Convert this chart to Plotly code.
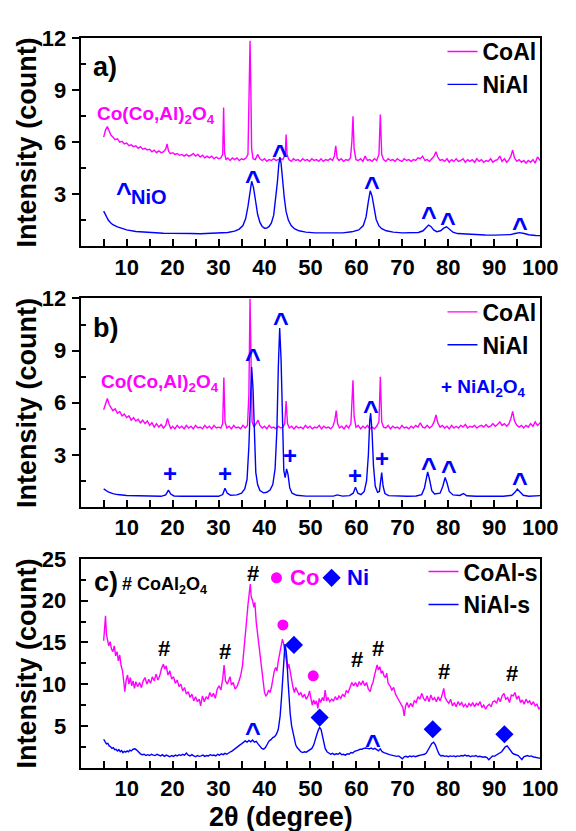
import plotly.graph_objects as go

# ---------------- data ----------------
# Panel a
xa_coal = [5.0,5.4,5.8,6.2,6.6,7.0,7.5,8.0,8.5,9.0,9.5,10.0,10.5,11.0,11.5,12.0,12.5,13.0,13.5,14.0,14.5,15.0,15.5,16.0,16.5,17.0,17.5,18.0,18.5,18.8,19.1,19.5,20.0,20.5,21.0,21.5,22.0,22.5,23.0,23.5,24.0,24.5,25.0,25.5,26.0,26.5,27.0,27.5,28.0,28.5,29.0,29.5,30.0,30.5,30.9,31.1,31.3,31.6,32.0,32.5,33.0,33.5,34.0,34.5,35.0,35.5,36.0,36.4,36.7,36.85,37.0,37.2,37.5,38.0,38.5,39.0,39.5,40.0,40.5,41.0,41.5,42.0,42.5,43.0,43.5,44.0,44.5,44.7,44.9,45.3,45.8,46.3,46.8,47.3,47.8,48.3,48.8,49.3,49.8,50.3,50.8,51.3,51.8,52.3,52.8,53.3,53.8,54.3,54.8,55.2,55.5,55.8,56.2,56.7,57.2,57.7,58.2,58.7,59.0,59.25,59.5,59.9,60.4,60.9,61.4,61.9,62.4,62.9,63.4,63.9,64.4,64.9,65.2,65.5,65.9,66.4,66.9,67.4,67.9,68.4,68.9,69.4,69.9,70.4,70.9,71.4,71.9,72.4,72.9,73.4,73.9,74.4,74.9,75.4,75.9,76.4,76.9,77.3,77.7,78.2,78.7,79.2,79.7,80.2,80.7,81.2,81.7,82.2,82.7,83.2,83.7,84.2,84.7,85.2,85.7,86.2,86.7,87.2,87.7,88.2,88.7,89.2,89.7,90.2,90.7,91.2,91.7,92.2,92.7,93.2,93.6,94.0,94.4,94.9,95.4,95.9,96.4,96.9,97.4,97.9,98.4,98.9,99.4,100.0]
ya_coal = [6.3,6.7,6.9,6.6,6.4,6.3,6.15,6.2,6.0,6.05,5.9,5.95,5.8,5.85,5.75,5.8,5.65,5.75,5.6,5.65,5.55,5.6,5.45,5.55,5.4,5.5,5.4,5.45,5.6,5.9,5.5,5.35,5.4,5.3,5.35,5.25,5.3,5.2,5.3,5.2,5.25,5.35,5.2,5.3,5.15,5.25,5.1,5.2,5.1,5.2,5.05,5.15,5.05,5.1,5.3,8.0,5.4,5.0,5.1,4.95,5.1,5.0,5.1,4.95,5.05,5.0,5.1,5.3,9.0,11.85,9.5,5.6,5.05,5.0,5.3,5.05,4.95,5.05,4.9,5.0,4.95,5.05,4.95,5.0,5.05,5.0,5.3,6.45,5.3,5.0,4.9,5.05,4.95,5.0,4.9,5.05,4.95,5.0,4.9,5.05,4.95,5.0,4.9,5.05,4.9,5.0,4.95,5.05,4.95,5.2,5.8,5.1,4.95,5.05,4.9,5.0,4.95,5.1,6.0,7.5,5.6,5.0,4.95,5.05,4.9,5.2,4.95,5.0,4.9,5.05,4.95,5.3,7.6,5.3,5.0,4.9,5.05,4.95,5.0,4.9,5.05,4.95,4.9,5.05,4.95,5.0,4.9,5.0,4.95,5.1,5.05,5.2,4.95,5.0,4.9,5.05,5.2,5.45,5.15,4.95,5.0,4.9,5.05,4.85,5.0,4.9,5.05,4.9,4.95,5.05,4.85,5.0,4.9,5.0,4.85,5.05,4.9,5.0,4.85,4.95,4.9,5.05,4.85,4.95,5.0,5.2,4.9,5.05,4.85,5.0,5.2,5.55,5.1,4.9,5.0,4.85,4.95,4.8,4.95,4.85,5.0,4.8,5.15,4.95]

xa_nial = [5.0,5.5,6.0,6.5,7.0,8.0,9.0,10.0,12.0,14.0,16.0,18.0,20.0,22.0,24.0,26.0,28.0,30.0,32.0,33.5,34.5,35.3,35.9,36.4,36.8,37.2,37.6,38.0,38.5,39.0,39.5,40.0,40.5,41.0,41.5,42.0,42.4,42.8,43.1,43.35,43.6,43.9,44.3,44.7,45.2,45.8,46.5,47.5,49.0,51.0,53.0,55.0,57.0,59.0,60.5,61.5,62.1,62.6,63.0,63.4,63.8,64.3,64.9,65.5,66.5,68.0,70.0,72.0,73.5,74.5,75.2,75.7,76.2,76.8,77.5,78.3,79.0,79.6,80.2,81.0,82.0,84.0,86.0,88.0,90.0,92.0,93.5,94.5,95.5,96.5,97.5,99.0,100.0]
ya_nial = [2.03,1.75,1.52,1.36,1.25,1.12,1.02,0.95,0.86,0.82,0.79,0.76,0.75,0.76,0.74,0.73,0.74,0.76,0.8,0.88,1.0,1.2,1.6,2.3,3.1,3.75,3.4,2.7,1.85,1.38,1.15,1.05,1.06,1.15,1.35,1.8,2.6,3.7,4.7,5.15,4.8,3.9,2.8,2.0,1.5,1.2,1.02,0.9,0.82,0.78,0.77,0.77,0.78,0.84,0.95,1.2,1.7,2.6,3.2,2.9,2.2,1.55,1.18,1.02,0.9,0.82,0.78,0.77,0.8,0.9,1.1,1.23,1.15,0.95,0.85,0.9,1.05,1.13,1.0,0.82,0.74,0.7,0.68,0.66,0.65,0.65,0.68,0.74,0.79,0.74,0.67,0.63,0.62]

# Panel b
xb_coal = [5.0,5.4,5.8,6.2,6.6,7.0,7.5,8.0,8.5,9.0,9.5,10.0,10.5,11.0,11.5,12.0,12.5,13.0,13.5,14.0,14.5,15.0,15.5,16.0,16.5,17.0,17.5,18.0,18.5,18.9,19.2,19.6,20.0,20.5,21.0,21.5,22.0,22.5,23.0,23.5,24.0,24.5,25.0,25.5,26.0,26.5,27.0,27.5,28.0,28.5,29.0,29.5,30.0,30.5,30.9,31.15,31.4,31.8,32.3,32.8,33.3,33.8,34.3,34.8,35.3,35.8,36.3,36.6,36.85,37.05,37.3,37.7,38.2,38.6,39.0,39.5,40.0,40.5,41.0,41.5,42.0,42.5,43.0,43.5,44.0,44.4,44.7,45.0,45.4,45.9,46.4,46.9,47.4,47.9,48.4,48.9,49.4,49.9,50.4,50.9,51.4,51.9,52.4,52.9,53.4,53.9,54.4,54.9,55.3,55.6,55.9,56.3,56.8,57.3,57.8,58.3,58.8,59.05,59.25,59.5,59.9,60.4,60.9,61.4,61.9,62.4,62.9,63.4,63.9,64.4,64.9,65.2,65.5,65.9,66.4,66.9,67.4,67.9,68.4,68.9,69.4,69.9,70.4,70.9,71.4,71.9,72.4,72.9,73.4,73.9,74.4,74.9,75.4,75.9,76.4,76.9,77.3,77.7,78.2,78.7,79.2,79.7,80.2,80.7,81.2,81.7,82.2,82.7,83.2,83.7,84.2,84.7,85.2,85.7,86.2,86.7,87.2,87.7,88.2,88.7,89.2,89.7,90.2,90.7,91.2,91.7,92.2,92.7,93.2,93.6,94.0,94.4,94.9,95.4,95.9,96.4,96.9,97.4,97.9,98.4,98.9,99.4,100.0]
yb_coal = [5.6,6.0,6.25,5.9,5.75,5.55,5.65,5.4,5.5,5.25,5.35,5.15,5.25,5.0,5.15,4.95,5.05,4.85,5.0,4.8,4.95,4.7,4.85,4.6,4.8,4.6,4.75,4.55,4.7,5.1,4.8,4.5,4.65,4.5,4.7,4.55,4.65,4.5,4.7,4.55,4.65,4.5,4.7,4.55,4.6,4.5,4.7,4.55,4.65,4.5,4.7,4.55,4.6,4.55,4.8,7.45,4.9,4.55,4.65,4.5,4.7,4.55,4.6,4.5,4.7,4.55,4.7,6.5,12.0,8.0,4.9,4.6,4.8,5.0,4.7,4.55,4.65,4.5,4.7,4.55,4.6,4.5,4.65,4.55,4.6,4.8,6.1,4.8,4.55,4.65,4.5,4.65,4.55,4.6,4.5,4.7,4.55,4.65,4.5,4.6,4.55,4.7,4.5,4.65,4.55,4.6,4.5,4.65,5.0,5.55,4.8,4.55,4.65,4.5,4.7,4.55,4.8,6.0,7.3,5.2,4.6,4.7,4.5,4.65,4.55,4.7,4.5,4.6,4.5,4.65,4.9,7.5,4.9,4.6,4.55,4.7,4.5,4.65,4.55,4.6,4.5,4.7,4.55,4.6,4.5,4.65,4.55,4.7,4.6,4.85,4.6,4.55,4.7,4.55,4.65,4.9,5.3,4.85,4.6,4.7,4.55,4.65,4.5,4.7,4.55,4.65,4.55,4.7,4.6,4.75,4.55,4.65,4.6,4.7,4.55,4.65,4.7,4.6,4.75,4.6,4.65,4.8,4.65,4.75,4.9,4.7,4.8,4.65,4.8,5.1,5.5,4.95,4.7,4.6,4.7,4.55,4.7,4.6,4.8,4.65,4.9,4.7,4.85]

xb_nial = [5.0,5.5,6.0,7.0,8.0,10.0,12.0,14.0,16.0,17.5,18.5,19.1,19.6,20.3,22.0,24.0,26.0,28.0,30.0,30.9,31.4,31.9,32.6,34.0,35.0,35.7,36.2,36.6,36.9,37.2,37.5,37.8,38.1,38.5,39.0,39.8,40.5,41.2,41.8,42.3,42.7,43.0,43.3,43.6,43.9,44.2,44.5,44.8,45.1,45.5,46.0,47.0,49.0,51.0,53.0,55.0,55.8,56.3,57.0,58.5,59.3,59.8,60.3,61.0,61.7,62.2,62.6,62.9,63.1,63.4,63.7,64.1,64.6,65.0,65.3,65.5,65.8,66.2,67.0,69.0,71.0,73.0,74.2,74.8,75.3,75.5,75.9,76.4,77.0,78.2,78.8,79.3,79.7,80.2,81.0,82.5,83.3,84.0,86.0,88.0,90.0,92.0,93.8,94.5,95.0,95.6,96.3,97.5,99.0,100.0]
yb_nial = [1.05,0.95,0.87,0.77,0.72,0.67,0.65,0.63,0.62,0.62,0.7,0.98,0.75,0.64,0.62,0.61,0.6,0.6,0.62,0.72,1.08,0.8,0.68,0.7,0.8,1.05,1.6,3.5,6.5,8.05,6.8,4.0,2.0,1.3,0.95,0.82,0.85,0.98,1.3,2.2,4.5,8.0,10.3,8.5,4.5,2.1,1.7,2.2,1.9,1.1,0.8,0.68,0.63,0.62,0.62,0.63,0.7,0.67,0.63,0.66,0.8,1.14,0.8,0.72,0.9,1.5,3.0,5.0,5.4,4.3,2.4,1.2,0.85,0.9,1.5,1.99,1.2,0.78,0.66,0.62,0.62,0.64,0.72,1.1,1.85,2.03,1.6,0.95,0.75,0.8,1.2,1.7,1.4,0.9,0.7,0.67,0.78,0.65,0.62,0.61,0.61,0.62,0.68,0.85,1.04,0.85,0.68,0.62,0.63,0.66]

# Panel c
xc_coal = [5.0,5.2,5.4,5.6,5.8,6.1,6.4,6.7,7.0,7.3,7.6,7.9,8.2,8.5,8.8,9.1,9.4,9.6,9.9,10.2,10.5,10.8,11.1,11.4,11.7,12.0,12.4,12.8,13.2,13.6,14.0,14.4,14.8,15.2,15.6,16.0,16.4,16.8,17.2,17.6,18.0,18.3,18.6,19.0,19.4,19.8,20.2,20.6,21.0,21.4,21.8,22.2,22.6,23.0,23.4,23.8,24.2,24.6,25.0,25.4,25.8,26.1,26.5,26.9,27.3,27.7,28.1,28.5,28.9,29.3,29.7,30.1,30.5,30.9,31.2,31.5,31.9,32.2,32.5,32.8,33.2,33.6,34.0,34.4,34.8,35.2,35.5,35.8,36.1,36.4,36.7,36.9,37.1,37.4,37.7,37.9,38.2,38.5,38.8,39.1,39.4,39.7,40.0,40.3,40.6,40.9,41.2,41.5,41.8,42.1,42.4,42.7,43.0,43.3,43.6,43.9,44.1,44.4,44.7,45.0,45.3,45.6,45.9,46.2,46.5,46.8,47.1,47.5,47.9,48.3,48.7,49.1,49.5,49.8,50.1,50.4,50.7,51.0,51.3,51.6,51.9,52.2,52.6,52.9,53.2,53.5,53.8,54.2,54.6,55.0,55.4,55.8,56.2,56.6,57.0,57.4,57.8,58.2,58.6,59.0,59.4,59.8,60.2,60.6,61.0,61.4,61.8,62.2,62.6,63.0,63.3,63.6,63.9,64.2,64.5,64.8,65.1,65.4,65.7,66.0,66.3,66.6,66.9,67.3,67.7,68.1,68.5,68.9,69.3,69.7,70.1,70.4,70.7,71.0,71.4,71.8,72.2,72.6,73.0,73.4,73.8,74.2,74.6,75.0,75.4,75.8,76.2,76.6,77.0,77.4,77.8,78.2,78.6,79.0,79.3,79.7,80.1,80.5,80.9,81.3,81.7,82.1,82.5,82.9,83.3,83.7,84.1,84.5,84.9,85.3,85.7,86.1,86.5,86.9,87.3,87.7,88.1,88.5,88.9,89.3,89.7,90.1,90.5,90.9,91.3,91.7,92.1,92.5,92.9,93.3,93.7,94.1,94.5,94.9,95.3,95.7,96.1,96.5,96.9,97.3,97.7,98.1,98.5,98.9,99.3,99.7,100.0]
yc_coal = [15.2,16.5,18.2,16.0,15.4,14.6,15.1,14.2,13.9,14.6,13.4,13.9,12.8,13.5,12.2,11.6,10.2,9.1,10.5,11.1,10.0,10.8,9.8,10.4,9.5,10.3,9.7,10.2,9.6,10.4,10.8,10.0,10.6,10.1,10.9,10.4,11.2,10.5,11.0,11.9,12.4,11.8,12.2,11.1,11.6,10.6,10.9,10.1,10.5,9.7,10.0,9.2,9.6,8.8,9.1,8.4,8.8,8.0,8.5,7.9,8.2,7.4,8.6,7.9,8.5,8.2,9.0,8.5,8.9,8.3,9.4,9.8,9.3,10.6,12.3,10.4,10.0,10.6,10.9,9.9,10.2,9.4,9.7,10.3,11.0,12.2,13.8,15.8,17.6,19.5,20.8,22.0,20.5,20.0,19.2,19.8,17.4,16.0,14.5,13.2,12.0,10.3,9.0,8.6,8.8,9.3,9.0,9.6,10.8,11.5,12.0,11.6,12.8,13.6,14.4,15.4,15.0,14.2,13.0,11.8,12.4,11.5,10.4,9.6,9.0,9.6,9.2,8.7,9.0,8.4,8.8,8.2,8.6,9.2,8.3,7.5,8.1,7.6,8.0,7.1,8.3,7.8,8.4,8.0,9.3,8.0,8.4,7.9,8.2,8.0,8.5,8.1,8.6,8.3,8.8,8.5,9.2,9.0,9.6,10.2,9.8,10.2,9.7,10.3,9.9,10.4,9.8,10.2,9.4,9.1,9.8,10.2,11.0,11.8,12.3,11.7,12.1,11.3,11.6,11.0,10.8,11.3,10.1,9.8,9.3,9.6,8.8,8.4,8.0,7.6,7.2,6.2,7.4,7.8,7.2,7.7,7.3,8.0,7.8,8.5,8.2,8.9,8.3,8.0,8.6,7.9,8.7,8.1,8.4,7.9,8.5,8.0,8.6,9.5,8.4,8.0,7.7,8.2,7.4,7.8,7.3,7.9,7.5,7.8,7.3,7.6,7.2,7.7,7.4,7.8,7.3,7.7,7.5,7.9,7.2,7.5,7.0,7.4,7.6,7.3,7.9,8.0,7.7,8.4,7.9,8.6,8.9,8.2,8.4,7.8,8.7,8.6,9.0,8.2,8.6,7.8,8.1,7.6,8.2,7.8,8.0,7.5,7.9,7.4,7.6,7.0,7.2]

xc_nial = [5.0,5.3,5.6,5.9,6.2,6.5,6.8,7.1,7.4,7.7,8.0,8.3,8.6,8.9,9.2,9.5,9.8,10.1,10.4,10.7,11.0,11.4,11.8,12.2,12.6,13.0,13.4,13.8,14.2,14.6,15.0,15.4,15.8,16.2,16.6,17.0,17.4,17.8,18.2,18.6,19.0,19.4,19.8,20.2,20.6,21.0,21.4,21.8,22.2,22.6,23.0,23.4,23.8,24.2,24.6,25.0,25.4,25.8,26.2,26.6,27.0,27.4,27.8,28.2,28.6,29.0,29.4,29.8,30.2,30.6,31.0,31.4,31.8,32.2,32.6,33.0,33.4,33.8,34.2,34.6,35.0,35.4,35.8,36.2,36.6,37.0,37.4,37.8,38.2,38.6,39.0,39.4,39.8,40.2,40.6,41.0,41.4,41.8,42.2,42.6,43.0,43.4,43.7,44.0,44.2,44.45,44.7,44.9,45.1,45.3,45.6,45.9,46.2,46.5,46.8,47.1,47.5,47.9,48.3,48.7,49.1,49.5,49.9,50.3,50.7,51.1,51.4,51.7,52.0,52.3,52.6,52.9,53.2,53.6,54.0,54.4,54.8,55.2,55.6,56.0,56.4,56.8,57.2,57.6,58.0,58.4,58.8,59.2,59.6,60.0,60.4,60.8,61.2,61.6,62.0,62.4,62.8,63.2,63.6,64.0,64.4,64.8,65.2,65.6,66.0,66.4,66.8,67.2,67.6,68.0,68.4,68.8,69.2,69.6,70.0,70.4,70.8,71.2,71.6,72.0,72.4,72.8,73.2,73.6,74.0,74.4,74.8,75.2,75.6,76.0,76.4,76.8,77.2,77.6,78.0,78.4,78.8,79.2,79.6,80.0,80.4,80.8,81.2,81.6,82.0,82.4,82.8,83.2,83.6,84.0,84.4,84.8,85.2,85.6,86.0,86.4,86.8,87.2,87.6,88.0,88.4,88.8,89.2,89.6,90.0,90.4,90.8,91.2,91.6,92.0,92.4,92.8,93.2,93.6,94.0,94.4,94.8,95.2,95.6,96.0,96.4,96.8,97.2,97.6,98.0,98.4,98.8,99.2,99.6,100.0]
yc_nial = [3.4,3.1,2.85,2.9,2.6,2.5,2.3,2.4,2.15,2.2,2.0,2.15,1.9,2.05,1.8,1.95,1.85,2.0,1.9,2.1,2.0,2.2,2.25,2.1,1.8,1.65,1.55,1.6,1.45,1.55,1.45,1.6,1.5,1.45,1.6,1.5,1.4,1.55,1.35,1.5,1.4,1.3,1.45,1.35,1.5,1.4,1.55,1.45,1.6,1.5,1.75,1.5,1.4,1.55,1.4,1.3,1.45,1.35,1.4,1.5,1.35,1.45,1.4,1.55,1.45,1.5,1.4,1.6,1.5,1.65,1.55,1.7,1.6,1.8,1.9,2.0,2.2,2.35,2.5,2.7,2.85,3.0,3.2,3.05,3.25,3.1,3.3,3.05,3.15,2.85,2.6,2.3,2.2,2.4,2.8,3.2,3.35,3.6,3.7,4.0,4.6,6.2,8.4,11.5,13.5,14.8,14.0,12.8,10.5,8.7,6.4,5.0,4.1,3.3,2.7,2.4,2.1,1.9,1.8,1.9,1.85,2.0,2.2,2.3,2.7,3.3,4.0,4.5,4.8,4.6,3.8,2.9,2.3,1.9,1.7,1.6,1.7,1.55,1.65,1.6,1.75,1.55,1.6,1.5,1.65,1.6,1.8,1.75,1.95,2.0,2.1,2.2,2.2,2.3,2.35,2.3,2.25,2.35,2.2,2.3,2.1,2.0,2.25,1.9,1.8,1.7,1.6,1.55,1.5,1.45,1.4,1.35,1.4,1.2,1.05,1.3,1.35,1.25,1.4,1.3,1.4,1.3,1.4,1.45,1.5,1.55,1.6,1.75,2.1,2.6,2.9,3.05,2.7,2.1,1.6,1.4,1.45,1.35,1.4,1.3,1.4,1.35,1.4,1.3,1.4,1.35,1.45,1.4,1.5,1.4,1.45,1.3,1.4,1.35,1.45,1.3,1.35,1.3,1.25,1.3,1.2,0.95,1.25,1.4,1.35,1.5,1.55,1.7,1.9,2.2,2.5,2.6,2.3,2.0,1.7,1.6,1.5,1.45,1.2,0.95,1.3,1.4,1.45,1.35,1.4,1.3,1.25,1.2,1.15,1.1]

# Phase markers
nio_a_x = [37.5, 43.4, 63.3, 75.8, 80.0, 95.5]
nio_a_y = [4.15, 5.65, 3.85, 2.1, 1.75, 1.45]
nio_b_x = [37.6, 43.5, 63.2, 75.9, 80.1, 95.5]
nio_b_y = [8.9, 11.0, 5.95, 2.65, 2.45, 1.8]
spinel_b_x = [19.5, 31.5, 45.6, 59.7, 65.6]
spinel_b_y = [1.93, 1.93, 2.94, 1.84, 2.78]
coal2o4_c_x = [18.2, 31.3, 37.5, 60.2, 64.8, 79.0, 93.8]
coal2o4_c_y = [14.3, 13.9, 23.3, 12.9, 14.3, 11.5, 11.3]
nio_c_x = [37.5, 63.6]
nio_c_y = [5.0, 3.6]
co_c_x = [44.0, 50.6]
co_c_y = [17.1, 11.0]
ni_c_x = [46.4, 52.0, 76.6, 92.2]
ni_c_y = [14.7, 6.0, 4.6, 4.0]

x_ticks = [10, 20, 30, 40, 50, 60, 70, 80, 90, 100]
x_minor = [5, 15, 25, 35, 45, 55, 65, 75, 85, 95]
ya_ticks = [3, 6, 9, 12]
ya_minor = [1.5, 4.5, 7.5, 10.5]
yc_ticks = [5, 10, 15, 20, 25]
yc_minor = [2.5, 7.5, 12.5, 17.5, 22.5]

# ---------------- styling ----------------
FONT = "Liberation Sans Narrow, Liberation Sans, Arial, sans-serif"
WIDE = "Liberation Sans, Arial, sans-serif"
MAG = "rgb(255,0,255)"
BLU = "rgb(0,0,255)"

def bold(s):
    return "<b>" + s + "</b>"

fig = go.Figure()

def line(x, y, color, name, xa, ya, leg):
    fig.add_trace(go.Scatter(x=x, y=y, mode="lines", name=bold(name),
                             line=dict(color=color, width=1.4),
                             xaxis=xa, yaxis=ya, legend=leg))

line(xa_coal, ya_coal, MAG, "CoAl", "x", "y", "legend")
line(xa_nial, ya_nial, BLU, "NiAl", "x", "y", "legend")
line(xb_coal, yb_coal, MAG, "CoAl", "x2", "y2", "legend2")
line(xb_nial, yb_nial, BLU, "NiAl", "x2", "y2", "legend2")
line(xc_coal, yc_coal, MAG, "CoAl-s", "x3", "y3", "legend3")
line(xc_nial, yc_nial, BLU, "NiAl-s", "x3", "y3", "legend3")

# Co / Ni markers in panel c (plus the key symbols)
fig.add_trace(go.Scatter(x=co_c_x + [42.6], y=co_c_y + [22.75], mode="markers",
                         marker=dict(symbol="circle", size=11, color=MAG),
                         xaxis="x3", yaxis="y3", showlegend=False))
fig.add_trace(go.Scatter(x=ni_c_x + [54.6], y=ni_c_y + [22.75], mode="markers",
                         marker=dict(symbol="diamond", size=14, color=BLU),
                         xaxis="x3", yaxis="y3", showlegend=False))

ann = []
def txt(x, y, s, color, size, xr, yr, yshift=0, family=FONT):
    ann.append(dict(x=x, y=y, text=bold(s), xref=xr, yref=yr, showarrow=False,
                    font=dict(family=family, size=size, color=color),
                    xanchor="center", yanchor="middle", yshift=yshift))

CARET = 27
CSH = -7
# panel a
txt(5.3, 10.35, "a)", "black", 27, "x", "y")
txt(16.4, 7.55, "Co(Co,Al)<sub>2</sub>O<sub>4</sub>", MAG, 19, "x", "y")
txt(9.4, 3.5, "^", BLU, CARET, "x", "y", yshift=CSH, family=WIDE)
txt(14.9, 2.85, "NiO", BLU, 20, "x", "y")
for xv, yv in zip(nio_a_x, nio_a_y):
    txt(xv, yv, "^", BLU, CARET, "x", "y", yshift=CSH, family=WIDE)
# panel b
txt(5.3, 10.3, "b)", "black", 27, "x2", "y2")
txt(17.2, 7.15, "Co(Co,Al)<sub>2</sub>O<sub>4</sub>", MAG, 19, "x2", "y2")
txt(87.6, 6.85, "+ NiAl<sub>2</sub>O<sub>4</sub>", BLU, 19, "x2", "y2")
for xv, yv in zip(nio_b_x, nio_b_y):
    txt(xv, yv, "^", BLU, CARET, "x2", "y2", yshift=CSH, family=WIDE)
for xv, yv in zip(spinel_b_x, spinel_b_y):
    txt(xv, yv, "+", BLU, 24, "x2", "y2", family=WIDE)
# panel c
txt(5.6, 22.3, "c)", "black", 27, "x3", "y3")
txt(18.2, 21.8, "# CoAl<sub>2</sub>O<sub>4</sub>", "black", 18, "x3", "y3")
txt(48.6, 22.75, "Co", MAG, 22, "x3", "y3")
txt(60.4, 22.75, "Ni", BLU, 22, "x3", "y3")
for xv, yv in zip(coal2o4_c_x, coal2o4_c_y):
    txt(xv, yv, "#", "black", 22, "x3", "y3")
for xv, yv in zip(nio_c_x, nio_c_y):
    txt(xv, yv, "^", BLU, CARET, "x3", "y3", yshift=CSH, family=WIDE)

# axis titles
doms = {"a": [0.7138, 0.9681], "b": [0.3955, 0.6502], "c": [0.0774, 0.3321]}
for k, d in doms.items():
    ann.append(dict(x=0.0486, y=(d[0] + d[1]) / 2, xref="paper", yref="paper",
                    text=bold("Intensity (count)"), textangle=-90, showarrow=False,
                    font=dict(family=FONT, size=27, color="black"),
                    xanchor="center", yanchor="middle"))
ann.append(dict(x=0.503, y=0.0175, xref="paper", yref="paper", text=bold("2θ (degree)"),
                showarrow=False, font=dict(family=FONT, size=27, color="black"),
                xanchor="center", yanchor="middle"))

tickfont = dict(family=FONT, size=22, color="black")

def xaxis(anchor):
    return dict(domain=[0.1446, 0.9682], range=[0, 100], anchor=anchor,
                tickmode="array", tickvals=x_ticks, ticktext=[bold(str(v)) for v in x_ticks],
                ticks="inside", ticklen=7, tickwidth=1.5, tickcolor="black",
                minor=dict(tickmode="array", tickvals=x_minor, ticks="inside", ticklen=7,
                           tickwidth=1.5, tickcolor="black"),
                showline=True, linewidth=2, linecolor="black", mirror=True,
                showgrid=False, zeroline=False, tickfont=tickfont,
                ticklabelstandoff=0, ticklabeloverflow="allow")

def yaxis(anchor, dom, rng, tv, mv, tickdir):
    return dict(domain=dom, range=rng, anchor=anchor,
                tickmode="array", tickvals=tv, ticktext=[bold(str(v)) for v in tv],
                ticks=tickdir, ticklen=7, tickwidth=1.5, tickcolor="black",
                minor=dict(tickmode="array", tickvals=mv, ticks="inside", ticklen=5,
                           tickwidth=1.5, tickcolor="black"),
                showline=True, linewidth=2, linecolor="black", mirror=True,
                showgrid=False, zeroline=False, tickfont=tickfont,
                ticklabelstandoff=(1 if tickdir == "outside" else 8),
                ticklabeloverflow="allow")

def legend(x, y):
    return dict(x=x, y=y, xanchor="left", yanchor="top", bgcolor="rgba(0,0,0,0)",
                font=dict(family=FONT, size=23, color="black"), itemwidth=30,
                tracegroupgap=0, borderwidth=0)

fig.update_layout(
    width=576, height=831, margin=dict(l=0, r=0, t=0, b=0),
    paper_bgcolor="white", plot_bgcolor="white",
    xaxis=xaxis("y"), xaxis2=xaxis("y2"), xaxis3=xaxis("y3"),
    yaxis=yaxis("x", doms["a"], [0, 12], ya_ticks, ya_minor, "outside"),
    yaxis2=yaxis("x2", doms["b"], [0, 12], ya_ticks, ya_minor, "outside"),
    yaxis3=yaxis("x3", doms["c"], [0, 25], yc_ticks, yc_minor, "inside"),
    legend=legend(0.793, 0.978), legend2=legend(0.793, 0.66),
    legend3=legend(0.759, 0.343),
    annotations=ann, showlegend=True,
)

fig.write_html("out.html")
